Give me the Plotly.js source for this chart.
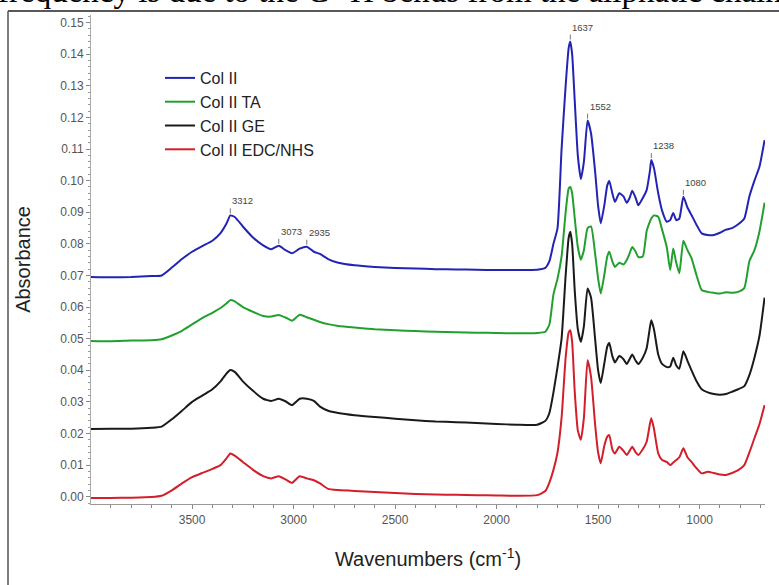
<!DOCTYPE html>
<html>
<head>
<meta charset="utf-8">
<script src="https://cdn.plot.ly/plotly-3.0.1.min.js"></script>
<style>
  html, body { margin: 0; padding: 0; background: #fff; }
  #chart { width: 779px; height: 585px; }
</style>
</head>
<body>
<div id="chart"></div>
<script>
// Wavenumber grid (cm-1)
const wavenumbers = [4000, 3900, 3800, 3700, 3650, 3600, 3550, 3500, 3450, 3400, 3360, 3330, 3312, 3290, 3250, 3200, 3150, 3110, 3073, 3040, 3008, 2970, 2935, 2900, 2870, 2830, 2780, 2700, 2600, 2500, 2400, 2300, 2200, 2100, 2000, 1900, 1800, 1760, 1740, 1720, 1700, 1680, 1660, 1645, 1637, 1628, 1615, 1600, 1585, 1570, 1552, 1535, 1515, 1500, 1487, 1470, 1455, 1445, 1430, 1417, 1396, 1375, 1359, 1345, 1332, 1315, 1302, 1280, 1261, 1245, 1238, 1225, 1204, 1185, 1162, 1145, 1130, 1115, 1100, 1080, 1060, 1040, 1015, 990, 960, 930, 900, 870, 840, 810, 780, 755, 730, 705, 680];

const colII = [0.0695, 0.0694, 0.0695, 0.0698, 0.0700, 0.0725, 0.0752, 0.0775, 0.0793, 0.0810, 0.0834, 0.0865, 0.0890, 0.0885, 0.0855, 0.0820, 0.0795, 0.0783, 0.0794, 0.0780, 0.0770, 0.0785, 0.0791, 0.0775, 0.0768, 0.0752, 0.0740, 0.0732, 0.0727, 0.0724, 0.0722, 0.0720, 0.0719, 0.0718, 0.0717, 0.0717, 0.0718, 0.0724, 0.0745, 0.0800, 0.0850, 0.1100, 0.1300, 0.1420, 0.1440, 0.1400, 0.1250, 0.1080, 0.1005, 0.1060, 0.1190, 0.1150, 0.1030, 0.0920, 0.0865, 0.0920, 0.0985, 0.0999, 0.0960, 0.0933, 0.0960, 0.0950, 0.0930, 0.0945, 0.0968, 0.0945, 0.0922, 0.0945, 0.0970, 0.1030, 0.1065, 0.1040, 0.0960, 0.0905, 0.0870, 0.0875, 0.0898, 0.0875, 0.0880, 0.0949, 0.0915, 0.0891, 0.0860, 0.0833, 0.0828, 0.0828, 0.0835, 0.0845, 0.0850, 0.0862, 0.0880, 0.0950, 0.1000, 0.1045, 0.1128];

const colIITA = [0.0493, 0.0492, 0.0494, 0.0495, 0.0498, 0.0510, 0.0525, 0.0545, 0.0565, 0.0582, 0.0597, 0.0612, 0.0622, 0.0618, 0.0600, 0.0585, 0.0572, 0.0570, 0.0575, 0.0567, 0.0557, 0.0576, 0.0568, 0.0560, 0.0553, 0.0546, 0.0540, 0.0535, 0.0530, 0.0527, 0.0524, 0.0522, 0.0520, 0.0519, 0.0518, 0.0517, 0.0518, 0.0522, 0.0545, 0.0640, 0.0690, 0.0760, 0.0900, 0.0975, 0.0980, 0.0960, 0.0880, 0.0790, 0.0750, 0.0780, 0.0850, 0.0855, 0.0770, 0.0690, 0.0643, 0.0700, 0.0760, 0.0775, 0.0745, 0.0727, 0.0740, 0.0735, 0.0749, 0.0770, 0.0790, 0.0775, 0.0758, 0.0760, 0.0840, 0.0870, 0.0880, 0.0890, 0.0886, 0.0845, 0.0790, 0.0717, 0.0785, 0.0740, 0.0707, 0.0810, 0.0780, 0.0755, 0.0700, 0.0654, 0.0648, 0.0645, 0.0643, 0.0647, 0.0645, 0.0648, 0.0660, 0.0745, 0.0780, 0.0840, 0.0930];

const colIIGE = [0.0214, 0.0215, 0.0215, 0.0218, 0.0222, 0.0245, 0.0272, 0.0300, 0.0320, 0.0340, 0.0365, 0.0390, 0.0401, 0.0395, 0.0365, 0.0335, 0.0310, 0.0303, 0.0310, 0.0302, 0.0290, 0.0310, 0.0310, 0.0303, 0.0285, 0.0272, 0.0265, 0.0258, 0.0252, 0.0247, 0.0242, 0.0238, 0.0236, 0.0233, 0.0230, 0.0228, 0.0228, 0.0240, 0.0265, 0.0330, 0.0410, 0.0500, 0.0700, 0.0820, 0.0838, 0.0800, 0.0650, 0.0530, 0.0490, 0.0540, 0.0659, 0.0630, 0.0500, 0.0400, 0.0360, 0.0420, 0.0475, 0.0486, 0.0445, 0.0425, 0.0445, 0.0435, 0.0420, 0.0435, 0.0450, 0.0430, 0.0420, 0.0440, 0.0470, 0.0535, 0.0558, 0.0530, 0.0450, 0.0420, 0.0410, 0.0412, 0.0440, 0.0415, 0.0405, 0.0460, 0.0430, 0.0400, 0.0365, 0.0340, 0.0330, 0.0325, 0.0323, 0.0325, 0.0332, 0.0340, 0.0350, 0.0385, 0.0440, 0.0510, 0.0630];

const colIIEDC = [-0.0004, -0.0004, -0.0003, -0.0001, 0.0003, 0.0020, 0.0042, 0.0062, 0.0075, 0.0088, 0.0100, 0.0122, 0.0137, 0.0130, 0.0110, 0.0085, 0.0065, 0.0058, 0.0065, 0.0055, 0.0044, 0.0065, 0.0058, 0.0052, 0.0042, 0.0025, 0.0021, 0.0018, 0.0015, 0.0012, 0.0009, 0.0007, 0.0006, 0.0005, 0.0004, 0.0003, 0.0005, 0.0018, 0.0045, 0.0085, 0.0140, 0.0250, 0.0440, 0.0520, 0.0527, 0.0490, 0.0330, 0.0210, 0.0180, 0.0250, 0.0432, 0.0380, 0.0230, 0.0140, 0.0106, 0.0160, 0.0190, 0.0195, 0.0150, 0.0137, 0.0158, 0.0145, 0.0132, 0.0145, 0.0158, 0.0140, 0.0132, 0.0150, 0.0174, 0.0230, 0.0248, 0.0215, 0.0137, 0.0116, 0.0110, 0.0100, 0.0108, 0.0116, 0.0125, 0.0153, 0.0125, 0.0110, 0.0090, 0.0074, 0.0079, 0.0075, 0.0070, 0.0069, 0.0075, 0.0084, 0.0100, 0.0140, 0.0185, 0.0230, 0.0290];

const seriesNames = ["Col II", "Col II TA", "Col II GE", "Col II EDC/NHS"];
const seriesColors = ["#2323b4", "#22a02e", "#1a1a1a", "#d21f2b"];

// Peak labels on the Col II spectrum
const peakWavenumbers = [3312, 3073, 2935, 1637, 1552, 1238, 1080];
const peakLabels = ["3312", "3073", "2935", "1637", "1552", "1238", "1080"];

const yTickVals = [0, 0.01, 0.02, 0.03, 0.04, 0.05, 0.06, 0.07, 0.08, 0.09, 0.10, 0.11, 0.12, 0.13, 0.14, 0.15];
const yTickText = ["0.00", "0.01", "0.02", "0.03", "0.04", "0.05", "0.06", "0.07", "0.08", "0.09", "0.10", "0.11", "0.12", "0.13", "0.14", "0.15"];
const xTickVals = [3500, 3000, 2500, 2000, 1500, 1000];

const allSeries = [colII, colIITA, colIIGE, colIIEDC];
const traces = allSeries.map((ys, i) => ({
  x: wavenumbers,
  y: ys,
  type: "scatter",
  mode: "lines",
  name: seriesNames[i],
  line: { color: seriesColors[i], width: 2, shape: "spline", smoothing: 0.5 }
}));

const annotations = peakWavenumbers.map((w, i) => {
  const idx = wavenumbers.indexOf(w);
  return {
    x: w, y: colII[idx], xref: "x", yref: "y",
    text: peakLabels[i],
    showarrow: true, arrowhead: 0, arrowwidth: 1, arrowcolor: "#777",
    ax: 0, ay: -7, standoff: 2,
    xanchor: "left", yanchor: "bottom",
    font: { family: "Liberation Sans, Arial, sans-serif", size: 9.5, color: "#444" }
  };
});

const L = 91, R = 14, T = 15, B = 81, W = 779, H = 585;
const pw = W - L - R, ph = H - T - B;
const px = v => (v - L) / pw;
const py = v => 1 - (v - T) / ph;

// Cropped line of document text above the figure
annotations.push({
  x: px(-4), y: py(11), xref: "paper", yref: "paper",
  xanchor: "left", yanchor: "bottom",
  text: "frequency is due to the C<sup>\u2212</sup> H bends from the aliphatic chain",
  showarrow: false,
  font: { family: "Liberation Serif, Times New Roman, serif", size: 33, color: "#000" }
});

const layout = {
  width: W, height: H,
  margin: { l: L, r: R, t: T, b: B },
  paper_bgcolor: "#ffffff",
  plot_bgcolor: "#ffffff",
  font: { family: "Liberation Sans, Arial, sans-serif", color: "#444" },
  showlegend: true,
  legend: {
    x: px(160), y: py(61), xanchor: "left", yanchor: "top",
    bgcolor: "rgba(0,0,0,0)",
    font: { size: 16, color: "#222" },
    tracegroupgap: 0
  },
  xaxis: {
    range: [3998, 678],
    tickvals: xTickVals,
    ticks: "outside", ticklen: 4, tickcolor: "#888", tickwidth: 1,
    showline: true, linecolor: "#999", linewidth: 1.2,
    showgrid: false, zeroline: false,
    tickfont: { size: 12, color: "#555" },
    minor: { dtick: 100, tick0: 0, ticks: "outside", ticklen: 3, tickcolor: "#888", showgrid: false },
    title: { text: "Wavenumbers (cm<sup>-1</sup>)", font: { size: 20, color: "#222" }, standoff: 26 }
  },
  yaxis: {
    range: [-0.0023, 0.1524],
    tickvals: yTickVals, ticktext: yTickText,
    ticks: "outside", ticklen: 4, tickcolor: "#888", tickwidth: 1,
    showline: true, linecolor: "#aaa", linewidth: 1,
    showgrid: false, zeroline: false,
    tickfont: { size: 12, color: "#555" },
    minor: { dtick: 0.002, tick0: 0, ticks: "outside", ticklen: 2, tickcolor: "#999", showgrid: false },
    title: { text: "Absorbance", font: { size: 20, color: "#222" }, standoff: 24 }
  },
  annotations: annotations,
  shapes: [
    { type: "line", xref: "paper", yref: "paper", x0: px(8), x1: px(779), y0: py(11), y1: py(11), line: { color: "#222", width: 1.5 } },
    { type: "line", xref: "paper", yref: "paper", x0: px(8), x1: px(8), y0: py(11), y1: py(585), line: { color: "#555", width: 1.5 } }
  ]
};

Plotly.newPlot("chart", traces, layout, { displayModeBar: false, staticPlot: true });
</script>
</body>
</html>
